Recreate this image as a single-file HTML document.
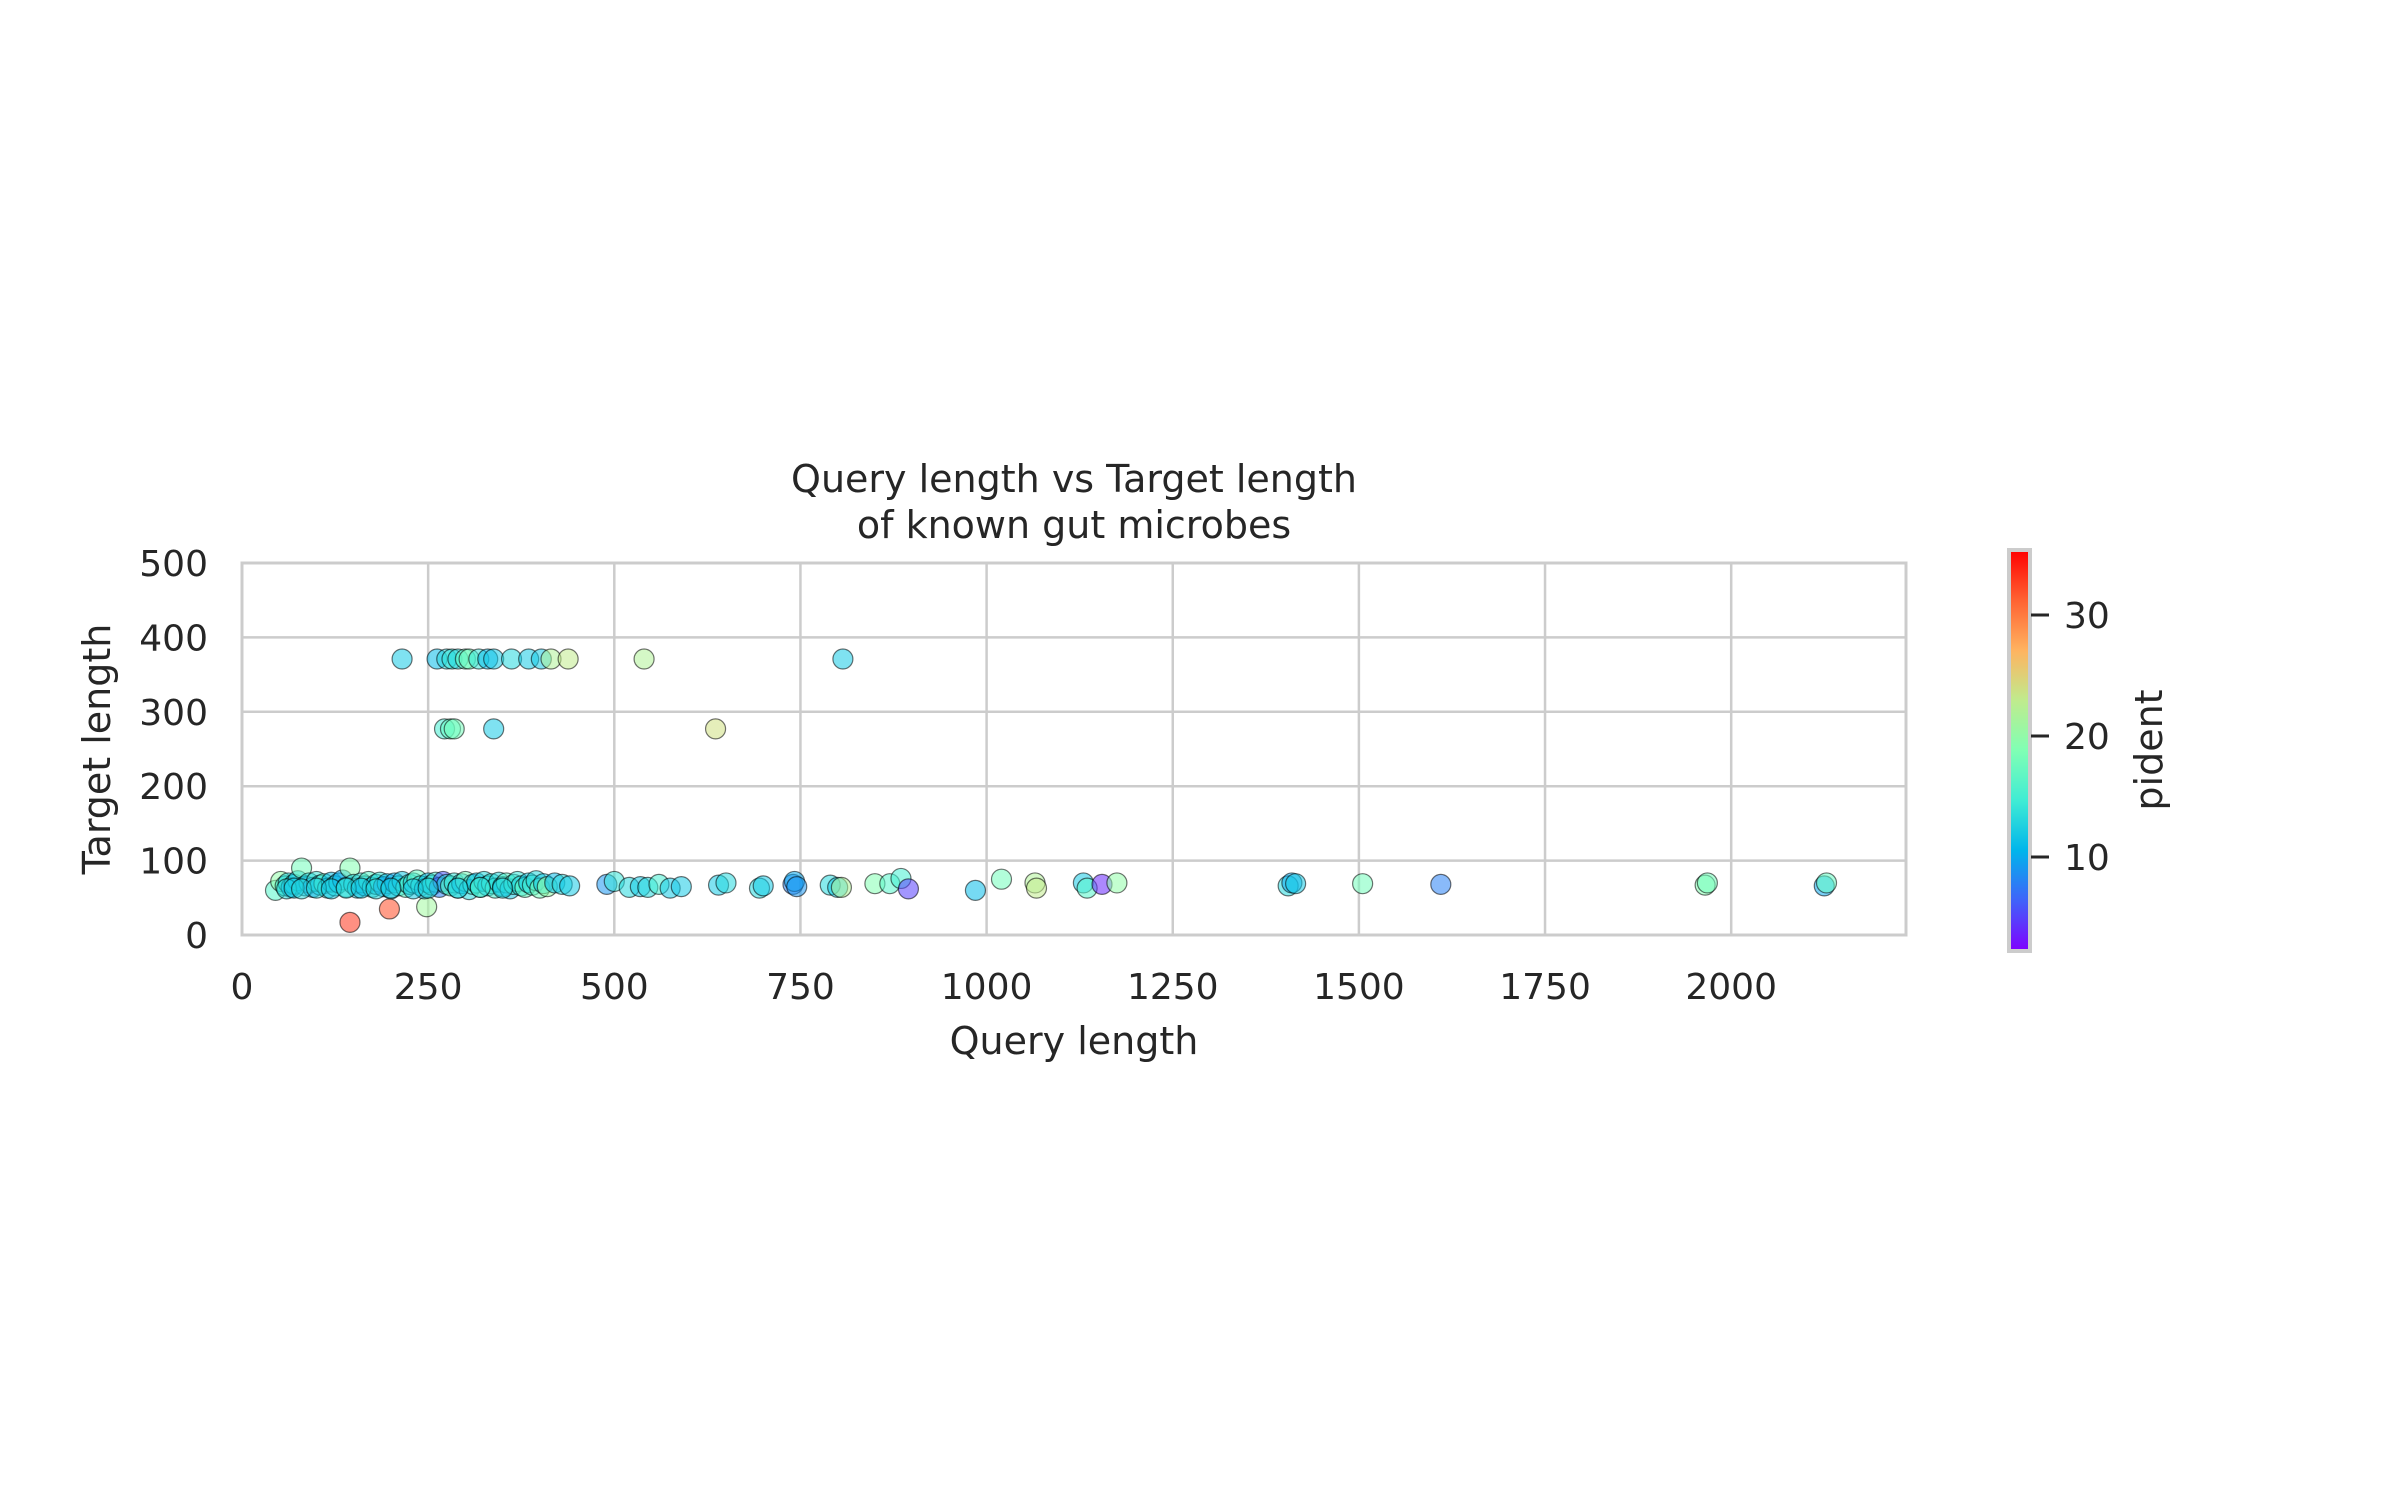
<!DOCTYPE html>
<html><head><meta charset="utf-8"><style>
html,body{margin:0;padding:0;background:#fff;}
svg{display:block;font-family:"DejaVu Sans","Liberation Sans",sans-serif;}
</style></head><body>
<svg id="chart" width="2400" height="1500" viewBox="0 0 2400 1500" xmlns="http://www.w3.org/2000/svg">
<defs>
<linearGradient id="rb" x1="0" y1="1" x2="0" y2="0">
<stop offset="0" stop-color="#8000ff"/><stop offset="0.125" stop-color="#4062fa"/><stop offset="0.25" stop-color="#00b5eb"/><stop offset="0.375" stop-color="#40ecd4"/><stop offset="0.5" stop-color="#80ffb4"/><stop offset="0.625" stop-color="#c0eb8d"/><stop offset="0.75" stop-color="#ffb360"/><stop offset="0.875" stop-color="#ff6232"/><stop offset="1" stop-color="#ff0000"/>
</linearGradient>
</defs>
<g id="grid"></g>
<g id="pts"></g>
<rect x="242" y="563" width="1664" height="372" fill="none" stroke="#cccccc" stroke-width="3"/>
<g id="ticks" fill="#262626" font-size="36"></g>
<text x="1074" y="492" text-anchor="middle" font-size="38" fill="#262626">Query length vs Target length</text>
<text x="1074" y="538" text-anchor="middle" font-size="38" fill="#262626">of known gut microbes</text>
<text x="1074" y="1054" text-anchor="middle" font-size="38" fill="#262626">Query length</text>
<text transform="translate(110,749) rotate(-90)" text-anchor="middle" font-size="38" fill="#262626">Target length</text>
<rect x="2009" y="550" width="21" height="401" fill="url(#rb)" stroke="#cccccc" stroke-width="4"/>
<g id="cbticks" fill="#262626" font-size="36"></g>
<text transform="translate(2162,750) rotate(-90)" text-anchor="middle" font-size="38" fill="#262626">pident</text>
</svg>
<script>
const xTicks=[0,250,500,750,1000,1250,1500,1750,2000];
const yTicks=[0,100,200,300,400,500];
const cTicks=[10,20,30];
const qlen=[215,262,275,282,290,300,305,318,330,338,362,385,402,415,438,540,807,
272,280,285,338,636,145,198,248,
45,52,58,62,66,70,75,80,85,90,95,100,105,110,115,120,125,130,135,140,145,150,155,160,165,170,175,180,185,190,195,200,205,210,215,220,225,230,235,240,245,250,255,260,265,270,275,280,285,290,295,300,305,310,315,320,325,330,335,340,345,350,355,360,365,370,375,380,385,390,395,400,405,410,420,430,440,
60,70,80,100,120,140,160,180,200,230,250,290,320,350,
490,500,520,535,545,560,575,590,640,650,695,700,740,742,745,790,800,805,850,870,885,895,985,1020,1065,1067,1130,1135,1155,1175,1405,1410,1415,1505,1610,1965,1968,2125,2128];
const tlen=[371,371,371,371,371,371,371,371,371,371,371,371,371,371,371,371,371,
277,277,277,277,277,17,35,38,
60,72,66,70,64,68,73,90,66,70,64,72,67,69,63,71,66,70,74,64,90,68,63,70,66,72,64,68,71,65,69,62,70,66,72,64,68,70,74,66,62,70,67,71,64,72,68,66,70,63,69,72,61,68,70,64,72,66,69,63,71,65,70,62,68,72,66,64,70,67,73,63,69,65,70,68,66,
62,63,62,63,62,63,63,62,63,62,63,63,64,63,
68,72,64,65,64,68,63,65,67,70,63,66,68,72,65,67,64,64,69,69,76,62,60,75,70,63,70,63,68,70,66,70,69,69,68,67,70,66,70];
const pident=[12,11,13,14,13,17,18,14,11,12,13,12,12,22,23,22,12,
15,17,18,12,24,33,32,21,
16,20,15,13,10,14,12,18,11,13,9,14,12,16,13,11,14,12,10,15,19,13,12,14,11,16,13,12,14,9,11,13,10,14,12,16,15,13,17,14,12,11,13,15,8,6,13,17,14,16,12,18,13,15,11,17,13,12,14,15,13,11,16,12,15,14,13,17,12,15,13,18,12,20,11,13,12,
13,12,13,13,12,13,12,13,12,12,13,12,14,13,
9,14,13,12,13,15,12,12,12,13,13,12,8,10,9,13,12,22,19,16,15,5,11,18,22,23,12,16,4,20,13,10,12,18,8,19,18,10,17];
const NS='http://www.w3.org/2000/svg';
const X0=242,PXU=0.7446,Y0=935,Y1=563,YMAX=500;
function sx(v){return X0+v*PXU;}
function sy(v){return Y0-v*(Y0-Y1)/YMAX;}
const CMIN=2.4,CMAX=35.2,CB0=949,CB1=552;
function sc(v){return CB0-(v-CMIN)*(CB0-CB1)/(CMAX-CMIN);}
function rainbow(v){let t=Math.max(0,Math.min(1,(v-CMIN)/(CMAX-CMIN)));
let r=Math.abs(2*t-0.5),g=Math.sin(Math.PI*t),b=Math.cos(Math.PI*t/2);
const c=x=>Math.round(255*Math.max(0,Math.min(1,x)));return 'rgb('+c(r)+','+c(g)+','+c(b)+')';}
function mk(tag,attrs,parent){const e=document.createElementNS(NS,tag);for(const k in attrs)e.setAttribute(k,attrs[k]);parent.appendChild(e);return e;}
const grid=document.getElementById('grid'),ticks=document.getElementById('ticks');
xTicks.forEach(v=>{
const l=mk('line',{x1:sx(v),x2:sx(v),y1:Y1,y2:Y0,stroke:'#cccccc','stroke-width':2.5},grid);


const t=mk('text',{x:sx(v),y:999,'text-anchor':'middle'},ticks);t.textContent=v;


});
yTicks.forEach(v=>{
const l=mk('line',{x1:X0,x2:X0+1664,y1:sy(v),y2:sy(v),stroke:'#cccccc','stroke-width':2.5},grid);


const t=mk('text',{x:208,y:sy(v)+13,'text-anchor':'end'},ticks);t.textContent=v;


});
const pts=document.getElementById('pts');
for(let i=0;i<qlen.length;i++){
const c=mk('circle',{cx:sx(qlen[i]),cy:sy(tlen[i]),r:10,fill:rainbow(pident[i]),'fill-opacity':0.55,stroke:'#000','stroke-opacity':0.55,'stroke-width':1.2},pts);


}
const cb=document.getElementById('cbticks');
cTicks.forEach(v=>{
const l=mk('line',{x1:2031,x2:2049,y1:sc(v),y2:sc(v),stroke:'#262626','stroke-width':3},cb);


const t=mk('text',{x:2064,y:sc(v)+13},cb);t.textContent=v;


});
</script>
</body></html>
